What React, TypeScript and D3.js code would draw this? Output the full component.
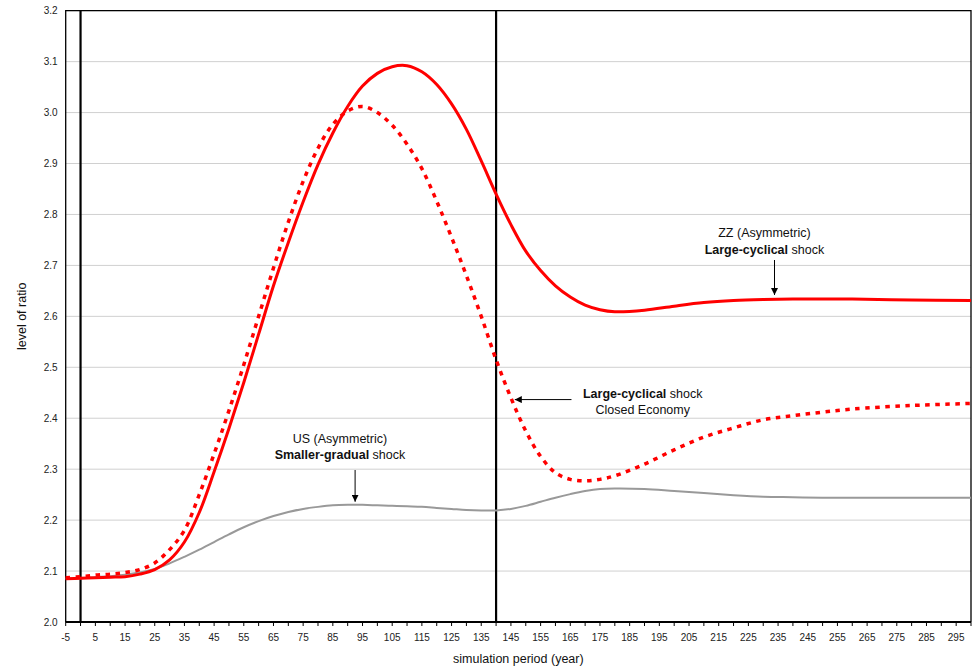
import React, { useRef, useEffect } from "react";
import * as d3 from "d3";

// simulation periods (years) shared by all three series
const years = [
  -5, 0, 5, 10, 15, 20, 25, 30, 35, 40, 45, 50, 55, 60, 65, 70, 75, 80, 85, 90,
  95, 100, 105, 110, 115, 120, 125, 130, 135, 140, 145, 150, 155, 160, 165, 170,
  175, 180, 190, 200, 210, 220, 230, 240, 250, 260, 280, 300,
];

// ZZ (Asymmetric) large-cyclical shock
const zzLarge = [
  2.085, 2.086, 2.087, 2.088, 2.089, 2.094, 2.103, 2.122, 2.157, 2.215, 2.295,
  2.38, 2.47, 2.565, 2.66, 2.745, 2.825, 2.898, 2.96, 3.012, 3.052, 3.077,
  3.09, 3.092, 3.08, 3.055, 3.017, 2.967, 2.905, 2.84, 2.78, 2.728, 2.69,
  2.66, 2.638, 2.622, 2.613, 2.609, 2.612, 2.62, 2.627, 2.631, 2.633, 2.634,
  2.634, 2.634, 2.632, 2.631,
];

// Large-cyclical shock, closed economy
const closedEconomy = [
  2.087, 2.089, 2.092, 2.094, 2.097, 2.103, 2.116, 2.142, 2.18, 2.25, 2.33,
  2.415, 2.505, 2.6, 2.695, 2.785, 2.865, 2.93, 2.977, 3.003, 3.012, 3.0,
  2.975, 2.938, 2.89, 2.826, 2.755, 2.68, 2.6, 2.515, 2.44, 2.375, 2.325,
  2.293, 2.28, 2.277, 2.28, 2.287, 2.31, 2.338, 2.363, 2.381, 2.397, 2.405,
  2.412, 2.418, 2.425, 2.429,
];

// US (Asymmetric) smaller-gradual shock
const usSmaller = [
  2.085, 2.086, 2.088, 2.09, 2.093, 2.097, 2.104, 2.115, 2.128, 2.142, 2.157,
  2.172, 2.186, 2.198, 2.208, 2.216, 2.222, 2.226, 2.229, 2.23, 2.23, 2.229,
  2.228, 2.227, 2.226, 2.224, 2.222, 2.22, 2.219, 2.219, 2.222, 2.228, 2.236,
  2.244, 2.251, 2.257, 2.261, 2.262, 2.261, 2.257, 2.253, 2.249, 2.246, 2.245,
  2.244, 2.244, 2.244, 2.244,
];

const yTicks = [2.0, 2.1, 2.2, 2.3, 2.4, 2.5, 2.6, 2.7, 2.8, 2.9, 3.0, 3.1, 3.2];
const xLabels = d3.range(-5, 300, 10);
const markerYears = [0, 140];

function App() {
  const svgRef = useRef<SVGSVGElement>(null);

  useEffect(() => {
    const w = 980;
    const h = 669;
    const font = "'Liberation Sans', Arial, sans-serif";
    const svg = d3.select(svgRef.current).attr("width", w).attr("height", h);
    svg.selectAll("*").remove();

    const left = 65.7;
    const right = 971;
    const top = 10.7;
    const bottom = 622;

    const x = d3.scaleLinear().domain([-5, 300]).range([left, right]);
    const y = d3.scaleLinear().domain([2.0, 3.2]).range([bottom, top]);

    // arrow head
    svg
      .append("defs")
      .append("marker")
      .attr("id", "head")
      .attr("viewBox", "0 0 10 10")
      .attr("refX", 10)
      .attr("refY", 5)
      .attr("markerWidth", 7)
      .attr("markerHeight", 7)
      .attr("markerUnits", "userSpaceOnUse")
      .attr("orient", "auto")
      .append("path")
      .attr("d", "M0,0 L10,5 L0,10 Z")
      .attr("fill", "#000");

    // gridlines
    svg
      .append("g")
      .selectAll("line")
      .data(yTicks.slice(1))
      .enter()
      .append("line")
      .attr("x1", left)
      .attr("x2", right)
      .attr("y1", (d) => y(d))
      .attr("y2", (d) => y(d))
      .attr("stroke", "#d0d0d0")
      .attr("stroke-width", 1);

    // y labels
    svg
      .append("g")
      .selectAll("text")
      .data(yTicks)
      .enter()
      .append("text")
      .attr("x", left - 8)
      .attr("y", (d) => y(d) + 3.5)
      .attr("text-anchor", "end")
      .attr("font-family", font)
      .attr("font-size", 10)
      .attr("fill", "#222")
      .text((d) => d.toFixed(1));

    // x ticks every 5 years, labels every 10
    svg
      .append("g")
      .selectAll("line")
      .data(d3.range(-5, 301, 5))
      .enter()
      .append("line")
      .attr("x1", (d) => x(d))
      .attr("x2", (d) => x(d))
      .attr("y1", bottom)
      .attr("y2", bottom + 4)
      .attr("stroke", "#000")
      .attr("stroke-width", 1);

    svg
      .append("g")
      .selectAll("text")
      .data(xLabels)
      .enter()
      .append("text")
      .attr("x", (d) => x(d))
      .attr("y", bottom + 19)
      .attr("text-anchor", "middle")
      .attr("font-family", font)
      .attr("font-size", 10)
      .attr("fill", "#222")
      .text((d) => d);

    // plot border
    svg
      .append("path")
      .attr("d", `M${left},${bottom} V${top} H${right} V${bottom}`)
      .attr("fill", "none")
      .attr("stroke", "#000")
      .attr("stroke-width", 1.3);
    svg
      .append("line")
      .attr("x1", left)
      .attr("x2", right)
      .attr("y1", bottom)
      .attr("y2", bottom)
      .attr("stroke", "#000")
      .attr("stroke-width", 2);

    // vertical markers
    svg
      .append("g")
      .selectAll("line")
      .data(markerYears)
      .enter()
      .append("line")
      .attr("x1", (d) => x(d))
      .attr("x2", (d) => x(d))
      .attr("y1", top)
      .attr("y2", bottom)
      .attr("stroke", "#000")
      .attr("stroke-width", 2.2);

    const line = (vals: number[]) =>
      d3
        .line<number>()
        .x((_, i) => x(years[i]))
        .y((d) => y(d))
        .curve(d3.curveCatmullRom.alpha(0.5))(vals);

    svg
      .append("path")
      .attr("d", line(usSmaller))
      .attr("fill", "none")
      .attr("stroke", "#999999")
      .attr("stroke-width", 2);

    svg
      .append("path")
      .attr("d", line(closedEconomy))
      .attr("fill", "none")
      .attr("stroke", "#ff0000")
      .attr("stroke-width", 3.5)
      .attr("stroke-dasharray", "4.5,5.5");

    svg
      .append("path")
      .attr("d", line(zzLarge))
      .attr("fill", "none")
      .attr("stroke", "#ff0000")
      .attr("stroke-width", 3);

    // annotations
    const note = (cx: number, cy: number, parts: [string, boolean][]) => {
      const t = svg
        .append("text")
        .attr("x", cx)
        .attr("y", cy + 4.5)
        .attr("text-anchor", "middle")
        .attr("font-family", font)
        .attr("font-size", 12.5)
        .attr("fill", "#111");
      parts.forEach(([s, b]) => {
        t.append("tspan").attr("font-weight", b ? "bold" : "normal").text(s);
      });
    };
    const arrow = (x1: number, y1: number, x2: number, y2: number) => {
      svg
        .append("line")
        .attr("x1", x1)
        .attr("y1", y1)
        .attr("x2", x2)
        .attr("y2", y2)
        .attr("stroke", "#000")
        .attr("stroke-width", 1)
        .attr("marker-end", "url(#head)");
    };

    note(x(230.4), 232.7, [["ZZ (Asymmetric)", false]]);
    note(x(230.4), 249, [["Large-cyclical", true], [" shock", false]]);
    arrow(x(233.8), 260, x(233.8), y(2.642));

    note(x(189.4), 393.3, [["Large-cyclical", true], [" shock", false]]);
    note(x(189.4), 409, [["Closed Economy", false]]);
    arrow(x(165.4), y(2.4366), x(146.3), y(2.4366));

    note(x(87.4), 438, [["US (Asymmetric)", false]]);
    note(x(87.4), 454.3, [["Smaller-gradual", true], [" shock", false]]);
    arrow(x(92.5), 470, x(92.5), y(2.236));

    // axis titles
    svg
      .append("text")
      .attr("transform", `translate(26,${(top + bottom) / 2}) rotate(-90)`)
      .attr("text-anchor", "middle")
      .attr("font-family", font)
      .attr("font-size", 12.5)
      .attr("fill", "#111")
      .text("level of ratio");
    svg
      .append("text")
      .attr("x", (left + right) / 2)
      .attr("y", 663)
      .attr("text-anchor", "middle")
      .attr("font-family", font)
      .attr("font-size", 12.5)
      .attr("fill", "#111")
      .text("simulation period (year)");
  }, []);

  return (
    <svg
      ref={svgRef}
      style={{ position: "absolute", left: 0, top: 0, background: "#fff" }}
    ></svg>
  );
}

export default App;
